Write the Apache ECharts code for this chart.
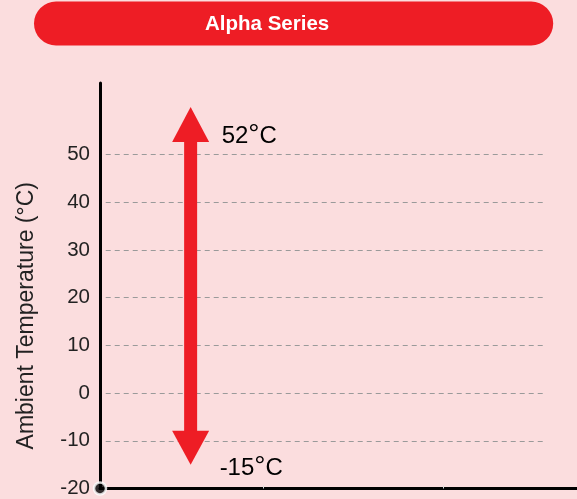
<!DOCTYPE html>
<html><head><meta charset="utf-8">
<script src="https://cdn.jsdelivr.net/npm/echarts@6/dist/echarts.min.js"></script>
<style>html,body{margin:0;padding:0;background:#FBDDDE}#c{width:577px;height:499px}</style>
</head><body><div id="c"></div>
<script>
const titleText = 'Alpha Series';
const yAxisName = 'Ambient Temperature (°C)';
const yTickLabels = [-20, -10, 0, 10, 20, 30, 40, 50];
const gridValues = [-10, 0, 10, 20, 30, 40, 50];
const rangeLow = -15;
const rangeHigh = 52;
const arrowX = 19;
const xTicks = [34.2, 71.9];
const origin = [0, -20];

const RED = '#EE1D25';
const FONT = 'Liberation Sans, Arial, sans-serif';

const chart = echarts.init(document.getElementById('c'), null, {renderer: 'canvas'});

const gridLineData = gridValues.map(v => [{coord: [1.2, v]}, {coord: [93.6, v]}]);

function degLabel(v) { return '{n|' + v + '}{d|°}{n|C}'; }
const labelRich = {
  n: {fontSize: 24, fontFamily: FONT, color: '#222'},
  d: {fontSize: 28, fontFamily: FONT, color: '#222', padding: [0, 0, 2, 0]}
};

chart.setOption({
  backgroundColor: '#FBDDDE',
  animation: false,
  title: {
    text: titleText,
    left: 34, top: 2,
    padding: [12, 224, 11, 171],
    backgroundColor: RED,
    borderRadius: 22,
    textStyle: {color: '#fff', fontSize: 20.5, fontWeight: 'bold', fontFamily: FONT, lineHeight: 20}
  },
  grid: {left: 100, right: 0, top: 83, bottom: 8, containLabel: false},
  xAxis: {
    type: 'value', min: 0, max: 100,
    axisLine: {show: true, onZero: false, lineStyle: {color: '#000', width: 3}},
    axisTick: {show: true, customValues: xTicks, length: 3, inside: true, lineStyle: {color: '#ddd', width: 1}},
    axisLabel: {show: false},
    splitLine: {show: false}
  },
  yAxis: {
    type: 'value', min: -20, max: 65,
    name: yAxisName, nameLocation: 'middle', nameGap: 62,
    nameTextStyle: {fontSize: 23, fontFamily: FONT, color: '#222', padding: [0, 60, 0, 0]},
    axisLine: {show: true, onZero: false, lineStyle: {color: '#000', width: 3}},
    axisTick: {show: false},
    axisLabel: {customValues: yTickLabels, fontSize: 20.5, fontFamily: FONT, color: '#222', margin: 10},
    splitLine: {show: false}
  },
  series: [
    {
      type: 'line', data: [], silent: true,
      markLine: {
        silent: true, symbol: 'none', animation: false,
        label: {show: false},
        lineStyle: {type: [5, 4], color: '#9a9a9a', width: 1},
        data: gridLineData
      }
    },
    {
      type: 'custom',
      data: [[arrowX, rangeLow, rangeHigh]],
      renderItem: function (params, api) {
        const top = api.coord([api.value(0), api.value(2)]);
        const bot = api.coord([api.value(0), api.value(1)]);
        const cx = top[0];
        const hw = 18.5, sw = 6.5;
        return {type: 'group', children: [
          {type: 'rect', shape: {x: cx - sw, y: top[1] - 4, width: sw * 2, height: (bot[1] - 33) - (top[1] - 4)}, style: {fill: RED}},
          {type: 'polygon', shape: {points: [[cx, top[1] - 38], [cx - hw, top[1] - 3], [cx + hw, top[1] - 3]]}, style: {fill: RED}},
          {type: 'polygon', shape: {points: [[cx, bot[1]], [cx - hw, bot[1] - 34], [cx + hw, bot[1] - 34]]}, style: {fill: RED}},
          {type: 'text', x: cx + 31, y: top[1] - 9, style: {text: degLabel(api.value(2)), rich: labelRich, verticalAlign: 'middle', align: 'left'}},
          {type: 'text', x: cx + 29, y: bot[1] + 4, style: {text: degLabel(api.value(1)), rich: labelRich, verticalAlign: 'middle', align: 'left'}}
        ]};
      },
      z: 5
    },
    {
      type: 'scatter', data: [origin], symbol: 'circle', symbolSize: 12, clip: false, silent: true,
      itemStyle: {color: '#000', borderColor: '#fff', borderWidth: 2.5},
      z: 10
    }
  ]
});
</script>
</body></html>
